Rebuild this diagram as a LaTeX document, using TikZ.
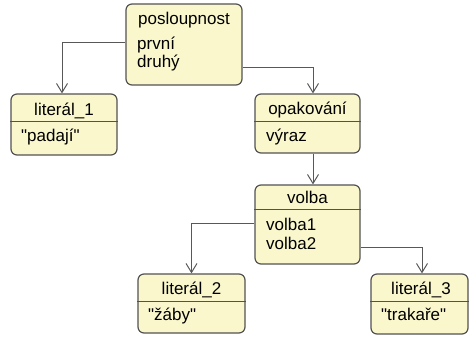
\documentclass[tikz,border=0pt]{standalone}
\usepackage{fontspec}
\setmainfont{Liberation Sans}[Ligatures=TeXOff]
\usetikzlibrary{arrows.meta}
\definecolor{boxfill}{RGB}{249,247,203}
\definecolor{boxline}{RGB}{82,82,82}
\definecolor{wireline}{RGB}{88,88,88}
\tikzset{
  classbox/.style={draw=boxline, fill=boxfill, line width=1.2pt,
    rounded corners=6pt, inner sep=0pt},
  sepline/.style={draw=boxline, line width=0.9pt},
  boxtitle/.style={anchor=base, inner sep=0pt, font=\fontsize{17}{20}\selectfont},
  entry/.style={anchor=base west, inner sep=0pt, font=\fontsize{17}{20}\selectfont},
  wire/.style={draw=wireline, line width=1pt,
    -{Straight Barb[length=9pt,width=11pt]}},
}
\begin{document}
\begin{tikzpicture}[x=1pt,y=-1pt]
\useasboundingbox (0,0) rectangle (469,337);

% class boxes
\node[classbox, minimum width=116pt, minimum height=81pt] (posl) at (184,44.5) {};
\node[classbox, minimum width=106pt, minimum height=61pt] (lit1) at (64,124.5) {};
\node[classbox, minimum width=105pt, minimum height=59pt] (opak) at (307.5,123.5) {};
\node[classbox, minimum width=105pt, minimum height=79pt] (volba) at (307.5,224.5) {};
\node[classbox, minimum width=107pt, minimum height=59pt] (lit2) at (191.5,303.5) {};
\node[classbox, minimum width=97pt, minimum height=60pt] (lit3) at (419.5,304) {};

% separators between title and body
\draw[sepline] ([yshift=-28pt]lit1.north west) -- ([yshift=-28pt]lit1.north east);
\draw[sepline] ([yshift=-28pt]opak.north west) -- ([yshift=-28pt]opak.north east);
\draw[sepline] ([yshift=-25pt]volba.north west) -- ([yshift=-25pt]volba.north east);
\draw[sepline] ([yshift=-28pt]lit2.north west) -- ([yshift=-28pt]lit2.north east);
\draw[sepline] ([yshift=-28pt]lit3.north west) -- ([yshift=-28pt]lit3.north east);

% titles
\node[boxtitle] (poslT) at (184,25) {posloupnost};
\node[boxtitle] (lit1T) at (64,115) {literál\_1};
\node[boxtitle] (opakT) at (307.5,114) {opakování};
\node[boxtitle] (volbaT) at (307.5,203) {volba};
\node[boxtitle] (lit2T) at (191.5,294) {literál\_2};
\node[boxtitle] (lit3T) at (421,294) {literál\_3};

% body entries
\node[entry] (poslA) at (137,50) {první};
\node[entry] (poslB) at (137,68) {druhý};
\node[entry] (lit1A) at (21,141) {"padají"};
\node[entry] (opakA) at (266,141) {výraz};
\node[entry] (volbaA) at (266,230) {volba1};
\node[entry] (volbaB) at (266,249) {volba2};
\node[entry] (lit2A) at (148,320) {"žáby"};
\node[entry] (lit3A) at (381,320) {"trakaře"};

% connectors
\draw[wire] ([yshift=1.5pt]posl.west) -| ([xshift=-2pt]lit1.north);
\draw[wire] ([yshift=-23.5pt]posl.east) -| ([xshift=5.5pt]opak.north);
\draw[wire] ([xshift=5.5pt]opak.south) -- ([xshift=5.5pt]volba.north);
\draw[wire] ([yshift=1.5pt]volba.west) -| (lit2.north);
\draw[wire] ([yshift=-22.5pt]volba.east) -| ([xshift=2.5pt]lit3.north);
\end{tikzpicture}
\end{document}
